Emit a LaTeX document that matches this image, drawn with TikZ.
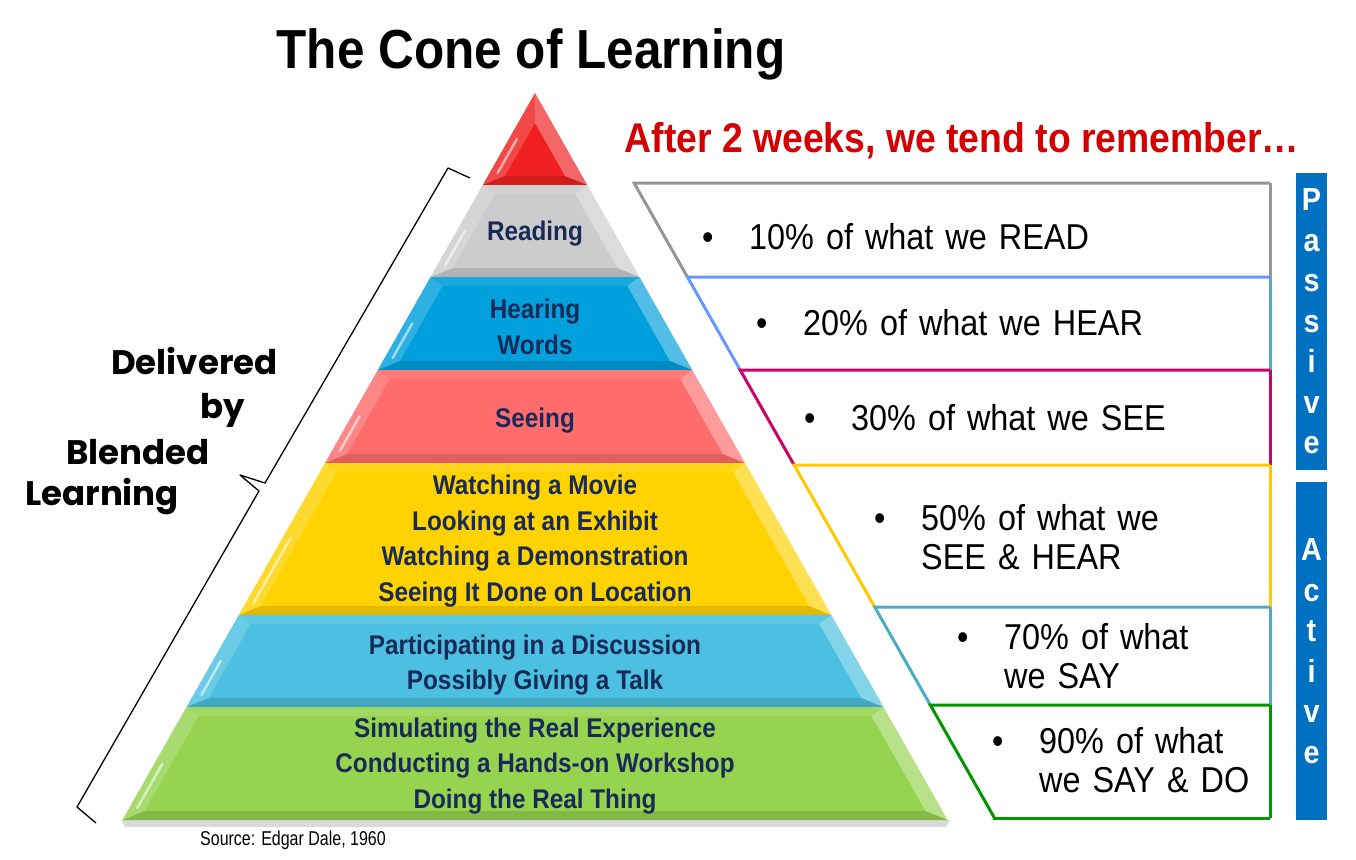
\documentclass[tikz,border=0pt]{standalone}
\usepackage{fontspec}
\setmainfont{Liberation Sans}[FakeStretch=0.9]
\newfontfamily\srcfont{Liberation Sans}[FakeStretch=0.8]
\newfontfamily\geofont{Poppins}
\usetikzlibrary{calc,positioning}

\definecolor{conered}{RGB}{240,32,32}
\definecolor{conegray}{RGB}{204,204,204}
\definecolor{coneblue}{RGB}{0,160,220}
\definecolor{conesalmon}{RGB}{255,108,108}
\definecolor{coneyellow}{RGB}{255,210,0}
\definecolor{conecyan}{RGB}{75,192,224}
\definecolor{conegreen}{RGB}{150,212,80}
\definecolor{labelnavy}{RGB}{25,42,88}
\definecolor{boxgray}{RGB}{150,150,150}
\definecolor{boxcorn}{RGB}{102,153,255}
\definecolor{boxsky}{RGB}{75,172,198}
\definecolor{boxmagenta}{RGB}{204,0,102}
\definecolor{boxgold}{RGB}{255,200,0}
\definecolor{boxgreen}{RGB}{0,150,0}
\definecolor{barblue}{RGB}{0,112,192}
\definecolor{titlered}{RGB}{210,0,0}

% font of the percentages, with wider word spaces
\newcommand\pctfont{\fontsize{36}{39.5}\selectfont\spaceskip 12pt plus 2pt\relax}

% one bevelled layer of the cone: top y, bottom y, colour
\def\pyrlayer#1#2#3{%
  \pgfmathsetmacro\pxa{(#1-93)*0.5675}
  \pgfmathsetmacro\pxb{(#2-93)*0.5675}
  \pgfmathsetmacro\pya{max(#1+9,123)}
  \pgfmathsetmacro\pyb{#2-9}
  \pgfmathsetmacro\pxc{max((\pya-93)*0.5675-17,0)}
  \pgfmathsetmacro\pxd{(\pyb-93)*0.5675-17}
  \pgfmathsetmacro\gly{#2-12}
  \pgfmathsetmacro\glx{(\gly-93)*0.5675-8}
  \pgfmathsetmacro\ghy{#1+(#2-#1)*0.5}
  \pgfmathsetmacro\ghx{(\ghy-93)*0.5675-8}
  \fill[#3] (535-\pxa,#1) -- (535+\pxa,#1) -- (535+\pxb,#2) -- (535-\pxb,#2) -- cycle;
  \fill[white,opacity=.18] (535-\pxa,#1) -- (535-\pxc,\pya) -- (535-\pxd,\pyb) -- (535-\pxb,#2) -- cycle;
  \fill[white,opacity=.32] (535+\pxa,#1) -- (535+\pxc,\pya) -- (535+\pxd,\pyb) -- (535+\pxb,#2) -- cycle;
  \fill[white,opacity=.1] (535-\pxa,#1) -- (535-\pxc,\pya) -- (535+\pxc,\pya) -- (535+\pxa,#1) -- cycle;
  \fill[black,opacity=.12] (535-\pxb,#2) -- (535-\pxd,\pyb) -- (535+\pxd,\pyb) -- (535+\pxb,#2) -- cycle;
  \draw[white,opacity=.55,line width=2.5pt,line cap=round] (535-\glx,\gly) -- (535-\ghx,\ghy);
}
% one box on the right: top y, bottom y, colour, colour of right side
\def\pctbox#1#2#3#4{%
  \pgfmathsetmacro\bxa{583+(#1-93)*0.5675}
  \pgfmathsetmacro\bxb{583+(#2-93)*0.5675}
  \draw[boxline,#4] (1270,#1) -- (1270,#2);
  \draw[boxline,#3] (1270,#1) -- (\bxa,#1) -- (\bxb,#2);
}

\tikzset{
  titletext/.style={font=\fontsize{55}{62}\selectfont\bfseries, inner sep=0pt},
  aftertext/.style={text=titlered, font=\fontsize{41.5}{48}\selectfont\bfseries, inner sep=0pt},
  layertext/.style={text=labelnavy, font=\fontsize{27}{35.7}\selectfont\bfseries, align=center, inner sep=0pt},
  pcttext/.style={font=\pctfont, align=left, anchor=west, inner sep=0pt},
  sourcetext/.style={font=\srcfont\fontsize{20}{24}\selectfont, anchor=west, inner sep=0pt},
  boxline/.style={line width=3pt, line join=miter},
  sidebar/.style={fill=barblue, text=white, minimum width=31pt, inner sep=0pt,
    font=\fontsize{32}{40.5}\selectfont\bfseries, align=center},
  geotext/.style={font=\geofont\fontsize{34}{40}\selectfont\bfseries, inner sep=0pt},
  bracepath/.style={line width=1.3pt, line join=round},
}

\begin{document}
\begin{tikzpicture}[x=1pt,y=-1pt]
\useasboundingbox (0,0) rectangle (1356,859);

%%% headings
\node[titletext, anchor=base] (title) at (531,68) {The Cone of Learning};
\node[aftertext, anchor=base] (after) at (962,152) {After 2 weeks, we tend to remember…};

%%% cone
\fill[black,opacity=.15] (121,820) -- (950,820) -- (946,827) -- (125,827) -- cycle;
\pyrlayer{93}{185}{conered}
\pyrlayer{185}{277}{conegray}
\pyrlayer{277}{370}{coneblue}
\pyrlayer{370}{463}{conesalmon}
\pyrlayer{463}{615}{coneyellow}
\pyrlayer{615}{707}{conecyan}
\pyrlayer{707}{820}{conegreen}

\node[layertext] (reading) at (535,234) {Reading};
\node[layertext] (hearing) at (535,327) {Hearing\\Words};
\node[layertext] (seeing) at (535,421) {Seeing};
\node[layertext] (watching) at (535,541) {Watching a Movie\\Looking at an Exhibit\\Watching a Demonstration\\Seeing It Done on Location};
\node[layertext] (talking) at (535,665) {Participating in a Discussion\\Possibly Giving a Talk};
\node[layertext] (doing) at (535,766) {Simulating the Real Experience\\Conducting a Hands-on Workshop\\Doing the Real Thing};

\node[sourcetext] (source) at (200,840) {Source: Edgar Dale, 1960};

%%% boxes on the right
\pctbox{183}{277}{boxgray}{boxgray}
\pctbox{277}{370}{boxcorn}{boxsky}
\pctbox{370}{465}{boxmagenta}{boxmagenta}
\pctbox{465}{607}{boxgold}{boxgold}
\pctbox{607}{705}{boxsky}{boxsky}
\pctbox{705}{818}{boxgreen}{boxgreen}
\draw[boxline,boxgreen] (992.7,818) -- (1270,818);

\node[pcttext] (read) at (702,237) {\makebox[47pt][l]{\textbullet}10\% of what we READ};
\node[pcttext] (hear) at (756,323) {\makebox[47pt][l]{\textbullet}20\% of what we HEAR};
\node[pcttext] (see) at (804,418) {\makebox[47pt][l]{\textbullet}30\% of what we SEE};
\node[pcttext] (seehear) at (874,537) {\makebox[47pt][l]{\textbullet}50\% of what we\\\hspace*{47pt}SEE \& HEAR};
\node[pcttext] (say) at (957,656) {\makebox[47pt][l]{\textbullet}70\% of what\\\hspace*{47pt}we SAY};
\node[pcttext] (saydo) at (992,760) {\makebox[47pt][l]{\textbullet}90\% of what\\\hspace*{47pt}we SAY \& DO};

%%% passive / active
\node[sidebar, minimum height=297pt] (passive) at (1311.5,321.5) {P\\a\\s\\s\\i\\v\\e};
\node[sidebar, minimum height=338pt] (active) at (1311.5,651) {A\\c\\t\\i\\v\\e};

%%% brace and its label
\draw[bracepath] (470,178) -- (448,168) -- (265,483) -- (240,475) -- (259,491) -- (77,807) -- (96,823);
\node[geotext, anchor=east] (delivered) at (278,361) {Delivered};
\node[geotext, anchor=west] (by) at (200,410) {by};
\node[geotext, anchor=west] (blended) at (66,452) {Blended};
\node[geotext, anchor=west] (learning) at (25,497) {Learning};

\end{tikzpicture}
\end{document}
